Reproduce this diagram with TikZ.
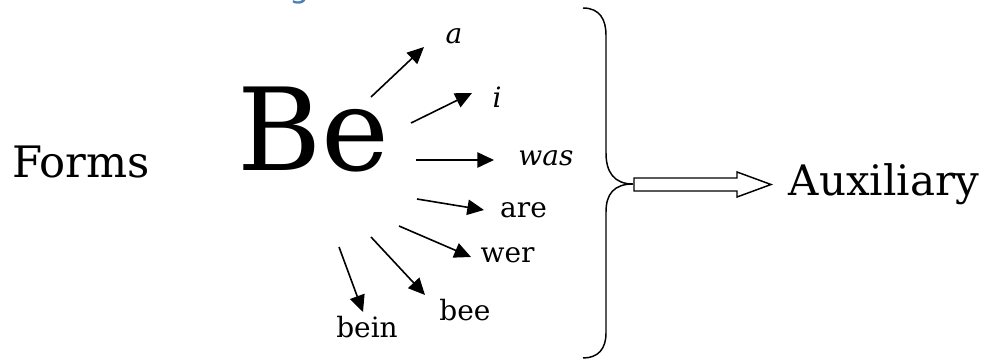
\documentclass[tikz,border=0pt]{standalone}
\usepackage{fontspec}
\setmainfont{DejaVu Serif}
\newfontfamily\headfont{DejaVu Sans}
\usetikzlibrary{arrows.meta}
\definecolor{headblue}{HTML}{4A7EBB}
\tikzset{
  big/.style={font=\fontsize{32.5}{36}\selectfont, inner sep=0pt, anchor=base},
  auxbox/.style={font=\fontsize{31.5}{36}\selectfont, inner sep=0pt, anchor=base},
  bebox/.style={font=\fontsize{86}{90}\selectfont, inner sep=0pt, anchor=base},
  word/.style={font=\fontsize{21}{24}\selectfont, inner sep=0pt, anchor=base},
  iword/.style={word, font=\fontsize{21}{24}\selectfont\itshape},
  formarrow/.style={line width=1.2pt, -{Triangle[length=12.5pt,width=11.5pt]}},
  brace/.style={line width=1.1pt},
  blockarrow/.style={line width=1.1pt, fill=white, line join=miter}
}
\begin{document}
\begin{tikzpicture}[x=0.75pt,y=-0.75pt]
\useasboundingbox (0,0) rectangle (989,360);
\clip (0,0) rectangle (989,360);
% cut-off heading
\node[font=\headfont\fontsize{24}{28}\selectfont, text=headblue, inner sep=0pt, anchor=base] (head) at (300,-2) {g};
% main words
\node[big] (forms) at (81,177) {Forms};
\node[bebox] (be) at (313.5,170) {Be};
\node[auxbox] (aux) at (884,195) {Auxiliary};
% forms
\node[iword] (wa) at (454,44) {a};
\node[iword] (wi) at (497,108) {i};
\node[iword] (wwas) at (546,166) {was};
\node[word] (ware) at (523.5,217) {are};
\node[word] (wwer) at (507.5,262) {wer};
\node[word] (wbee) at (465,320) {bee};
\node[word] (wbein) at (367,337) {bein};
% arrow end points
\coordinate (sa) at (371,97);   \coordinate (ea) at (424,47);
\coordinate (si) at (411,123);  \coordinate (ei) at (472,93);
\coordinate (sw) at (416,160);  \coordinate (ew) at (494,160);
\coordinate (sr) at (417,199);  \coordinate (er) at (484,210);
\coordinate (sx) at (399,226);  \coordinate (ex) at (471,257);
\coordinate (sb) at (371,237);  \coordinate (eb) at (425,295);
\coordinate (sn) at (339,247);  \coordinate (en) at (363,312);
\draw[formarrow] (sa) -- (ea);
\draw[formarrow] (si) -- (ei);
\draw[formarrow] (sw) -- (ew);
\draw[formarrow] (sr) -- (er);
\draw[formarrow] (sx) -- (ex);
\draw[formarrow] (sb) -- (eb);
\draw[formarrow] (sn) -- (en);
% brace
\coordinate (tip) at (633,184);
\draw[brace] (583,8) .. controls (600,8) and (606,20) .. (606,35)
  -- (606,153) .. controls (606,172) and (614,184) .. (tip)
  .. controls (614,184) and (606,194) .. (606,212)
  -- (606,333) .. controls (606,349) and (598,358) .. (583,358);
% block arrow
\draw[blockarrow] ([xshift=0.75pt]tip) ++(0,-6) -- ++(103,0) -- ++(0,-6) -- ++(34,12.5)
  -- ++(-34,12.5) -- ++(0,-6) -- ++(-103,0) -- cycle;
\end{tikzpicture}
\end{document}
